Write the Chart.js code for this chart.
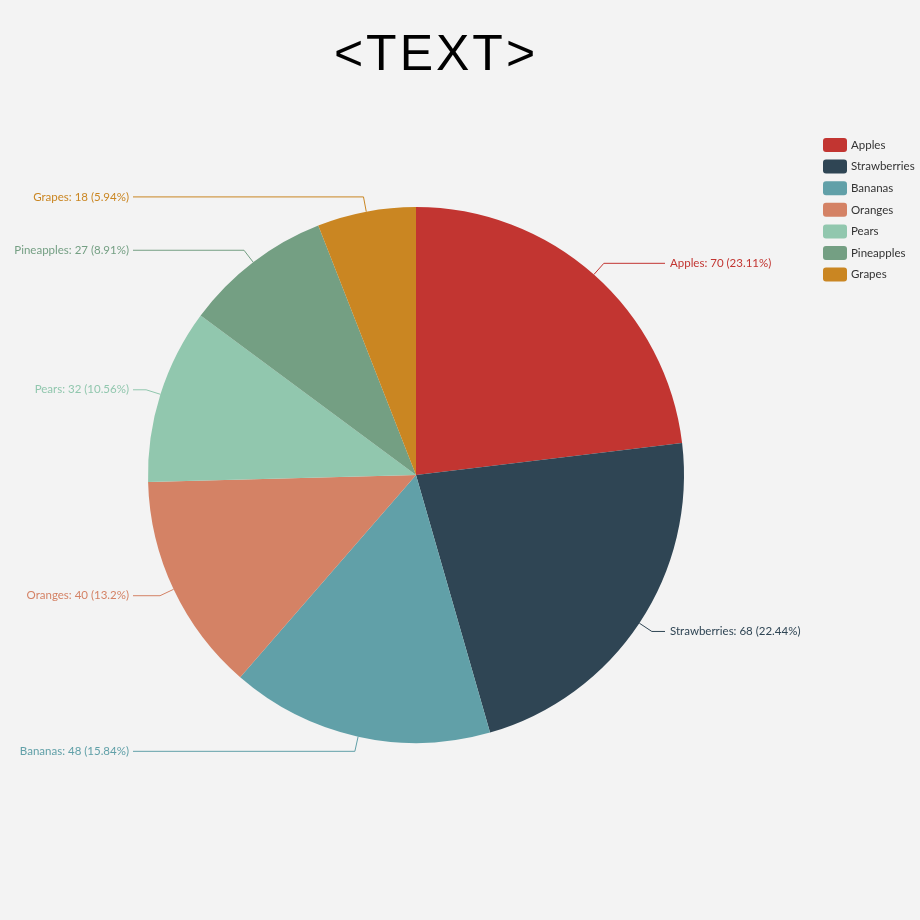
<!DOCTYPE html>
<html>
<head>
<meta charset="utf-8">
<script src="https://cdn.jsdelivr.net/npm/chart.js@4/dist/chart.umd.min.js"></script>
<style>
  html, body { margin: 0; padding: 0; background: #f3f3f3; }
  #wrap { width: 920px; height: 920px; position: relative; }
</style>
</head>
<body>
<div id="wrap"><canvas id="c" width="920" height="920"></canvas></div>
<script>
const titleText = "<TEXT>";
const categories = ["Apples", "Strawberries", "Bananas", "Oranges", "Pears", "Pineapples", "Grapes"];
const values = [70, 68, 48, 40, 32, 27, 18];
const colors = ["#c23531", "#2f4554", "#61a0a8", "#d48265", "#91c7ae", "#749f83", "#ca8622"];

const labelFont = "11.5px Lato, 'Open Sans', sans-serif";

// percentages with 2 decimals that sum to 100 (largest remainder)
function percents(data) {
  const total = data.reduce((a, b) => a + b, 0);
  const raw = data.map(v => v / total * 10000);
  const fl = raw.map(Math.floor);
  let rest = 10000 - fl.reduce((a, b) => a + b, 0);
  const order = raw.map((r, i) => [r - fl[i], i]).sort((a, b) => b[0] - a[0]);
  for (let k = 0; k < rest; k++) fl[order[k][1]] += 1;
  return fl.map(v => v / 100);
}

const bgPlugin = {
  id: 'bg',
  beforeDraw(chart) {
    const ctx = chart.ctx;
    ctx.save();
    ctx.fillStyle = '#f3f3f3';
    ctx.fillRect(0, 0, chart.width, chart.height);
    ctx.fillStyle = '#000';
    ctx.font = "50px 'Liberation Sans', Arial, sans-serif";
    ctx.textAlign = 'center';
    ctx.textBaseline = 'middle';
    if (ctx.letterSpacing !== undefined) ctx.letterSpacing = '3px';
    ctx.fillText(titleText, 436, 56);
    ctx.restore();
  }
};

const labelPlugin = {
  id: 'pieLabels',
  afterDatasetsDraw(chart, args, opts) {
    const ctx = chart.ctx;
    const meta = chart.getDatasetMeta(0);
    const data = chart.data.datasets[0].data;
    const pcts = percents(data);
    ctx.save();
    ctx.font = labelFont;
    ctx.textBaseline = 'middle';
    ctx.lineWidth = 1;
    meta.data.forEach((arc, i) => {
      const p = arc.getProps(['x', 'y', 'startAngle', 'endAngle', 'outerRadius'], true);
      const mid = (p.startAngle + p.endAngle) / 2;
      const c = Math.cos(mid), s = Math.sin(mid);
      const x1 = p.x + p.outerRadius * c, y1 = p.y + p.outerRadius * s;
      const x2 = p.x + (p.outerRadius + opts.len1) * c, y2 = p.y + (p.outerRadius + opts.len1) * s;
      const right = c >= 0;
      const x3 = right ? opts.rightLineEnd : opts.leftLineEnd;
      const col = colors[i];
      ctx.strokeStyle = col;
      ctx.beginPath();
      ctx.moveTo(x1, y1);
      ctx.lineTo(x2, y2);
      ctx.lineTo(x3, y2);
      ctx.stroke();
      const txt = categories[i] + ': ' + data[i] + ' (' + pcts[i] + '%)';
      ctx.fillStyle = col;
      ctx.textAlign = right ? 'left' : 'right';
      ctx.fillText(txt, right ? opts.rightText : opts.leftText, y2);
    });
    ctx.restore();
  }
};

const legendPlugin = {
  id: 'customLegend',
  afterDraw(chart, args, opts) {
    const ctx = chart.ctx;
    ctx.save();
    ctx.font = labelFont;
    ctx.textBaseline = 'middle';
    ctx.textAlign = 'left';
    categories.forEach((name, i) => {
      const cy = opts.top + i * opts.gap;
      ctx.fillStyle = colors[i];
      ctx.beginPath();
      if (ctx.roundRect) ctx.roundRect(opts.left, cy - 7, 24, 14, 3);
      else ctx.rect(opts.left, cy - 7, 24, 14);
      ctx.fill();
      ctx.fillStyle = '#333';
      ctx.fillText(name, opts.left + 28, cy);
    });
    ctx.restore();
  }
};

new Chart(document.getElementById('c'), {
  type: 'pie',
  data: {
    labels: categories,
    datasets: [{
      data: values,
      backgroundColor: colors,
      borderWidth: 0,
      hoverOffset: 0
    }]
  },
  options: {
    responsive: false,
    animation: false,
    layout: { padding: { left: 148, right: 236, top: 207, bottom: 177 } },
    plugins: {
      legend: { display: false },
      title: { display: false },
      tooltip: { enabled: false },
      pieLabels: { len1: 15, rightLineEnd: 665, rightText: 670, leftLineEnd: 133, leftText: 129 },
      customLegend: { left: 823, top: 145, gap: 21.6 }
    }
  },
  plugins: [bgPlugin, labelPlugin, legendPlugin]
});
</script>
</body>
</html>
